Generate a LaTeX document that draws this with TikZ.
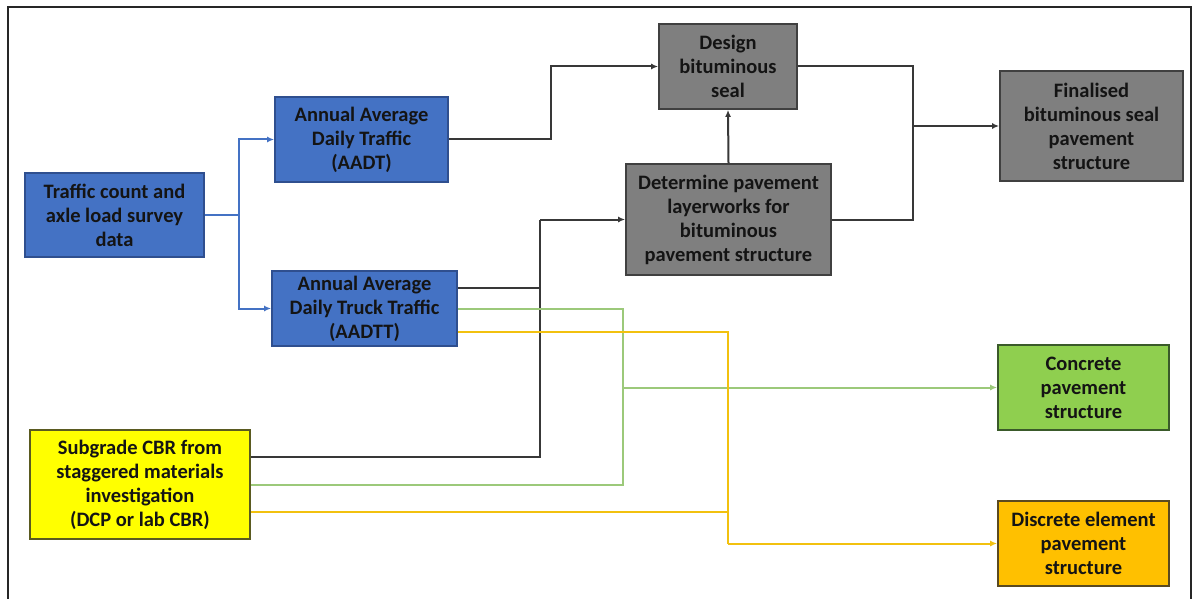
\documentclass[tikz,border=0pt]{standalone}
\usepackage{fontspec}
\setmainfont{Carlito}
\usetikzlibrary{arrows.meta,calc}
\definecolor{bfill}{HTML}{4472C4}
\definecolor{bdraw}{HTML}{2F4F8F}
\definecolor{gfill}{HTML}{7F7F7F}
\definecolor{gdraw}{HTML}{404040}
\definecolor{grfill}{HTML}{8FCF4F}
\definecolor{grdraw}{HTML}{3A5A2A}
\definecolor{yfill}{HTML}{FFFF00}
\definecolor{ydraw}{HTML}{5A5A20}
\definecolor{ofill}{HTML}{FFC000}
\definecolor{odraw}{HTML}{5A4A20}
\definecolor{bline}{HTML}{4472C4}
\definecolor{kline}{HTML}{383838}
\definecolor{gline}{HTML}{9CC97A}
\definecolor{yline}{HTML}{F2C10F}
\definecolor{txt}{HTML}{141414}
\begin{document}
\begin{tikzpicture}[x=1pt,y=-1pt,
  box/.style={rectangle,line width=1.8pt,inner sep=0pt,align=center,
    font=\fontsize{20.5}{24}\selectfont\bfseries,text=txt},
  bluebox/.style={box,fill=bfill,draw=bdraw},
  graybox/.style={box,fill=gfill,draw=gdraw},
  greenbox/.style={box,fill=grfill,draw=grdraw},
  yelbox/.style={box,fill=yfill,draw=ydraw},
  orbox/.style={box,fill=ofill,draw=odraw},
  conn/.style={line width=2pt},
  tip/.style={-{Latex[length=7pt,width=6pt]}},
  bcon/.style={conn,draw=bline},
  kcon/.style={conn,draw=kline},
  gcon/.style={conn,draw=gline},
  ycon/.style={conn,draw=yline}]
\useasboundingbox (0,0) rectangle (1194,599);
\fill[white] (0,0) rectangle (1194,599);
\draw[line width=1.5pt,draw=black!85] (8,599) -- (8,7) -- (1191,7) -- (1191,599);

\node[bluebox,minimum width=179pt,minimum height=84pt] (traffic) at (114.5,215) {Traffic count and\\axle load survey\\data};
\node[bluebox,minimum width=173pt,minimum height=85pt] (aadt) at (361.5,139.5) {Annual Average\\Daily Traffic\\(AADT)};
\node[bluebox,minimum width=185pt,minimum height=75pt] (aadtt) at (364.5,308.5) {Annual Average\\Daily Truck Traffic\\(AADTT)};
\node[graybox,minimum width=138pt,minimum height=85pt] (design) at (728,66.5) {Design\\bituminous\\seal};
\node[graybox,minimum width=205pt,minimum height=111pt] (determine) at (728.5,219.5) {Determine pavement\\layerworks for\\bituminous\\pavement structure};
\node[graybox,minimum width=183pt,minimum height=110pt] (final) at (1091.5,126) {Finalised\\bituminous seal\\pavement\\structure};
\node[greenbox,minimum width=171pt,minimum height=85pt] (concrete) at (1083.5,387.5) {Concrete\\pavement\\structure};
\node[orbox,minimum width=171pt,minimum height=85pt] (discrete) at (1083.5,543.5) {Discrete element\\pavement\\structure};
\node[yelbox,minimum width=220pt,minimum height=109pt] (subgrade) at (140,484.5) {Subgrade CBR from\\staggered materials\\investigation\\(DCP or lab CBR)};

% blue connectors
\coordinate (bj) at (239,215);
\draw[bcon] (traffic.east) -- (bj);
\draw[bcon,tip] (bj) |- (aadt.west);
\draw[bcon,tip] (bj) |- (aadtt.west);

% black connectors
\coordinate (aj) at (551,139.5);
\draw[kcon,tip] (aadt.east) -- (aj) |- (design.west);
\coordinate (fr) at (913,219.5);
\draw[kcon] (design.east) -| (fr) -- (determine.east);
\draw[kcon,tip] (fr |- final.west) -- (final.west);
\draw[kcon,tip] (determine.north) -- (design.south);
\coordinate (kj) at (540,219.5);
\draw[kcon,tip] (kj) -- (determine.west);
\draw[kcon] ($(aadtt.east)+(0,-21)$) -| (kj);
\draw[kcon] ($(subgrade.east)+(0,-27.5)$) -| (kj);

% green connectors
\coordinate (gj) at (623,387.5);
\draw[gcon] (aadtt.east) -| (gj);
\draw[gcon] (subgrade.east) -| (gj);
\draw[gcon,tip] (gj) -- (concrete.west);

% yellow connectors
\coordinate (yj) at (728,543.5);
\draw[ycon] ($(aadtt.east)+(0,23)$) -| (yj);
\draw[ycon] ($(subgrade.east)+(0,27.5)$) -| (yj);
\draw[ycon,tip] (yj) -- (discrete.west);
\end{tikzpicture}
\end{document}
